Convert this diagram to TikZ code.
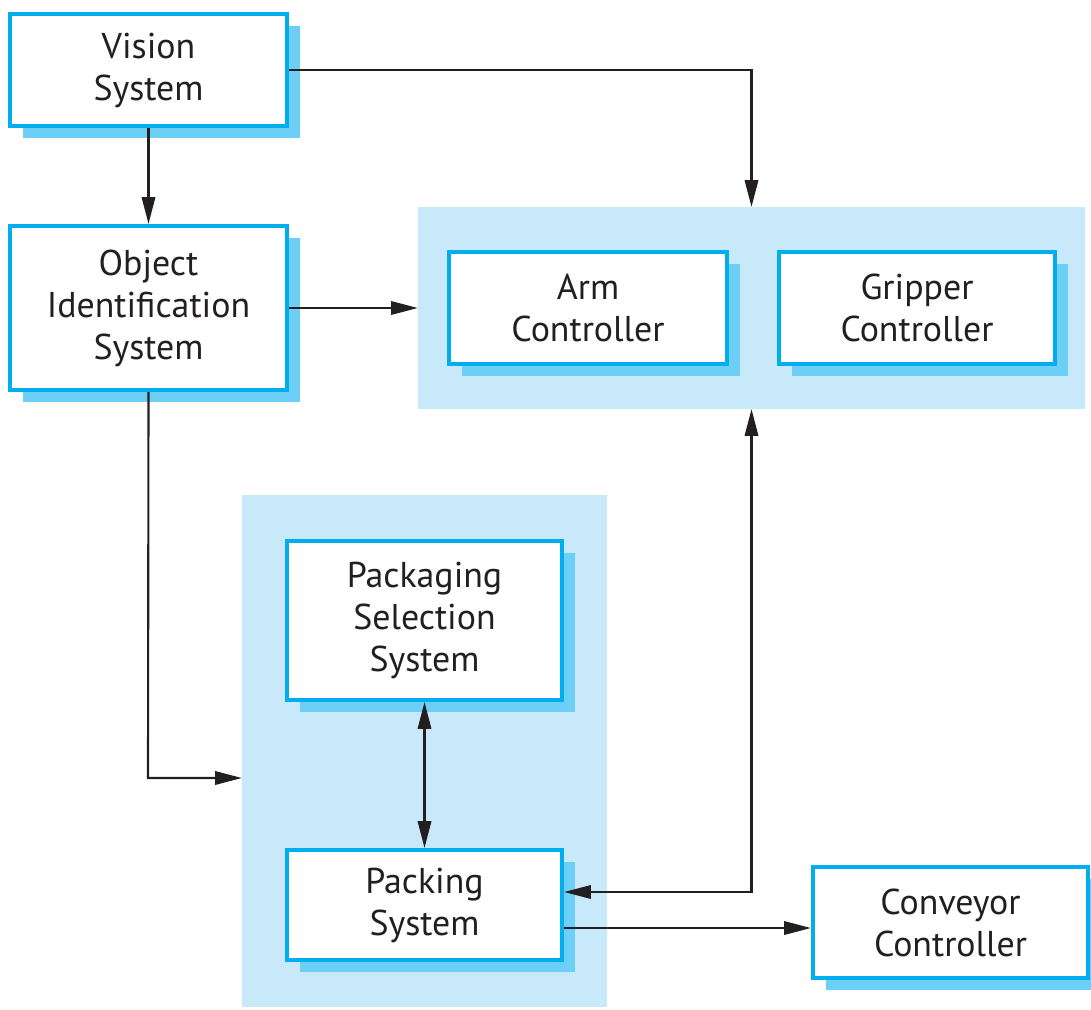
\documentclass[tikz,border=0pt]{standalone}
\usepackage{fontspec}
\setmainfont{PT Sans}
\usetikzlibrary{arrows.meta,shadows}
\definecolor{bordc}{RGB}{0,174,239}
\definecolor{shc}{RGB}{109,207,246}
\definecolor{grpc}{RGB}{199,233,249}
\definecolor{linec}{RGB}{35,31,32}
\tikzset{
  box/.style={draw=bordc, line width=1.15pt, fill=white, align=center, inner sep=0pt,
    font=\fontsize{10.2}{11.95}\selectfont, text=linec,
    drop shadow={shadow xshift=0.13cm, shadow yshift=-0.12cm, fill=shc, opacity=1}},
  grp/.style={fill=grpc, draw=none, outer sep=0pt, inner sep=0pt},
  arr/.style={draw=linec, line width=0.6pt, -{Triangle[length=7.6pt,width=3.8pt]}},
  arrb/.style={draw=linec, line width=0.6pt, {Triangle[length=7.6pt,width=3.8pt]}-{Triangle[length=7.6pt,width=3.8pt]}},
  ln/.style={draw=linec, line width=0.6pt}
}
\begin{document}
\begin{tikzpicture}[x=0.01cm,y=-0.01cm]
\useasboundingbox (0,0) rectangle (1091,1009);
% groups
\node[grp, minimum width=6.67cm, minimum height=2.02cm] (armgroup) at (751.5,308) {};
\node[grp, minimum width=3.65cm, minimum height=5.12cm] (packgroup) at (424.5,751) {};
% boxes
\node[box, minimum width=2.77cm, minimum height=1.12cm] (vision) at (148.5,70) {Vision\\System};
\node[box, minimum width=2.77cm, minimum height=1.64cm] (objid) at (148.5,308) {Object\\Identification\\System};
\node[box, minimum width=2.78cm, minimum height=1.12cm] (arm) at (588,308) {Arm\\Controller};
\node[box, minimum width=2.76cm, minimum height=1.12cm] (gripper) at (917,308) {Gripper\\Controller};
\node[box, minimum width=2.75cm, minimum height=1.59cm] (pss) at (424.5,620.5) {Packaging\\Selection\\System};
\node[box, minimum width=2.75cm, minimum height=1.10cm] (packing) at (424.5,905) {Packing\\System};
\node[box, minimum width=2.75cm, minimum height=1.11cm] (conveyor) at (950.5,922.5) {Conveyor\\Controller};
% connector helper points
\coordinate (oidturn) at (148,778);
\coordinate (pkup) at ([yshift=0.13cm]packing.east);
\coordinate (pkdn) at ([yshift=-0.23cm]packing.east);
% connectors
\draw[arr] (vision.south) -- (objid.north);
\draw[arr] (vision.east) -| (armgroup.north);
\draw[arr] (objid.east) -- (armgroup.west);
\draw[arr] (objid.south) -- (oidturn) -- (oidturn -| packgroup.west);
\draw[arrb] (pss.south) -- (packing.north);
\draw[arrb] (pkup) -| (armgroup.south);
\draw[arr] (pkdn) -- (pkdn -| conveyor.west);
\end{tikzpicture}
\end{document}
